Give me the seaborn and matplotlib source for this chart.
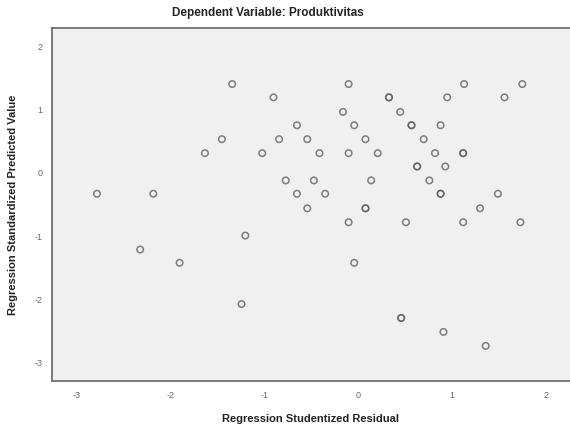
import matplotlib
matplotlib.use("Agg")
import matplotlib.pyplot as plt
import seaborn as sns
import pandas as pd

# Studentized residual (x) and standardized predicted value (y)
resid = [-1.34, -0.90, -0.65, -1.45, -0.84, -0.54, -1.63, -1.02, -0.77, -0.65,
         -0.54, -2.78, -2.18, -1.20, -2.32, -1.90, -1.24,
         -0.10, 1.13, 1.75, 0.33, 0.33, 0.95, 1.56, -0.16, 0.45, -0.04, 0.57, 0.57,
         0.88, 0.08, 0.70, -0.41, -0.10, 0.21, 0.82, 1.12, 1.12, 0.63, 0.63, 0.93,
         -0.47, 0.14, 0.76, -0.35, 0.88, 0.88, 1.49, 0.08, 0.08, 1.30, -0.10, 0.51,
         1.12, 1.73, -0.04, 0.46, 0.46, 0.91, 1.36]
pred = [1.40, 1.19, 0.75, 0.53, 0.53, 0.53, 0.31, 0.31, -0.12, -0.33,
        -0.56, -0.33, -0.33, -0.99, -1.21, -1.42, -2.07,
        1.40, 1.40, 1.40, 1.19, 1.19, 1.19, 1.19, 0.96, 0.96, 0.75, 0.75, 0.75,
        0.75, 0.53, 0.53, 0.31, 0.31, 0.31, 0.31, 0.31, 0.31, 0.10, 0.10, 0.10,
        -0.12, -0.12, -0.12, -0.33, -0.33, -0.33, -0.33, -0.56, -0.56, -0.56, -0.78, -0.78,
        -0.78, -0.78, -1.42, -2.29, -2.29, -2.51, -2.73]

x_ticks = [-3, -2, -1, 0, 1, 2]
y_ticks = [-3, -2, -1, 0, 1, 2]
title = "Dependent Variable: Produktivitas"
xlabel = "Regression Studentized Residual"
ylabel = "Regression Standardized Predicted Value"

df = pd.DataFrame({"resid": resid, "pred": pred})

sns.set_style("white")
plt.rcParams["font.family"] = ["Liberation Sans", "DejaVu Sans"]

fig = plt.figure(figsize=(5.70, 4.28), dpi=100)
ax = fig.add_axes([52 / 570, 1 - 381 / 428, (570 - 52) / 570, (381 - 28) / 428])
ax.set_facecolor("#f0f0f0")

sns.scatterplot(data=df, x="resid", y="pred", ax=ax, marker="o", s=22,
                facecolors="none", edgecolor="#606060", linewidth=1.1, alpha=0.8)

ax.set_xlim(-3.259, 2.258)
ax.set_ylim(-3.284, 2.284)
ax.set_xticks(x_ticks)
ax.set_yticks(y_ticks)
ax.set_xticklabels([str(t) for t in x_ticks])
ax.set_yticklabels([str(t) for t in y_ticks])
ax.tick_params(axis="both", direction="out", length=5, width=0.8, color="#777777",
               labelsize=6.5, labelcolor="#666666", pad=2)

for side in ["left", "bottom", "top"]:
    ax.spines[side].set_visible(True)
    ax.spines[side].set_color("#666666")
    ax.spines[side].set_linewidth(1.2)
ax.spines["right"].set_visible(False)

ax.set_xlabel(xlabel, fontsize=8, fontweight="bold", color="#222222", labelpad=10)
ax.set_ylabel(ylabel, fontsize=8, fontweight="bold", color="#222222", labelpad=12)
fig.text(268 / 570, 1 - 13 / 428, title, ha="center", va="center",
         fontsize=8.5, fontweight="bold", color="#222222")

fig.savefig("out.png", dpi=100, facecolor="white")
